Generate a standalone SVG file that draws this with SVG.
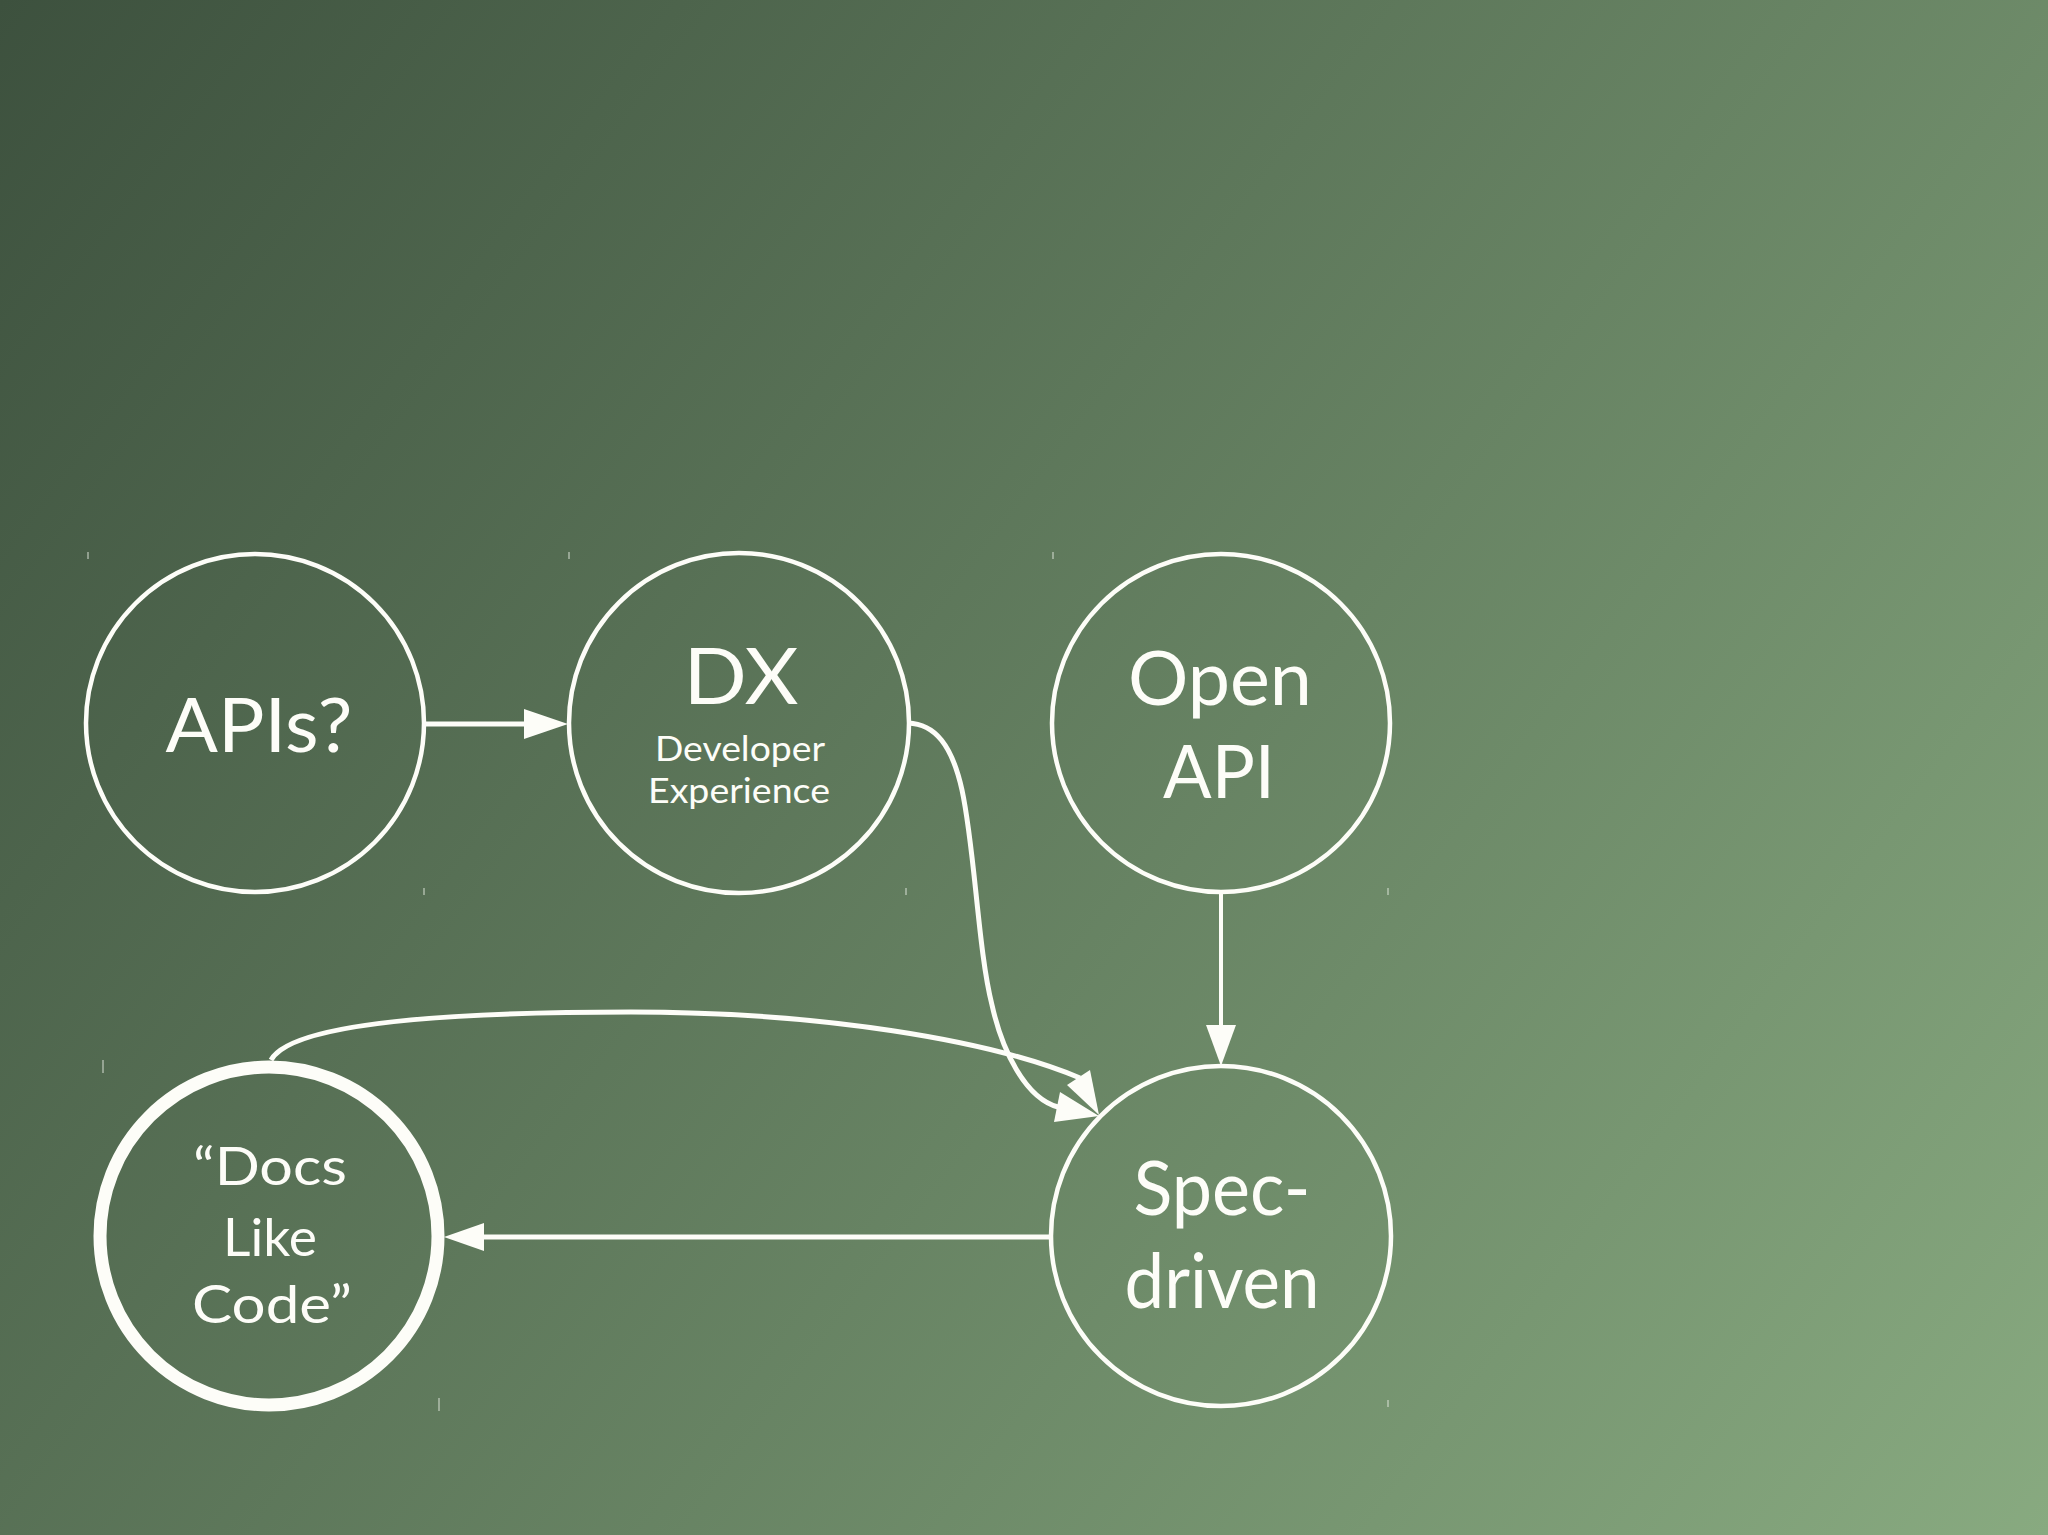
<svg xmlns="http://www.w3.org/2000/svg" width="2048" height="1535" viewBox="0 0 2048 1535">
<defs>
<linearGradient id="bg" gradientUnits="userSpaceOnUse" x1="0" y1="0" x2="2048" y2="1535">
<stop offset="0" stop-color="#3d513e"/>
<stop offset="1" stop-color="#88aa80"/>
</linearGradient>
<style>
.node{fill:none;stroke:#fdfdf8;stroke-width:4.5}
.thick{stroke-width:13}
.edge{fill:none;stroke:#fdfdf8;stroke-width:5}
.head{fill:#fdfdf8;stroke:none}
.tick{stroke:#e8eee4;stroke-width:1.5;opacity:0.6}
text{fill:#fdfdf8;font-family:Lato,"Open Sans","Liberation Sans",sans-serif;text-anchor:middle}
</style>
</defs>
<rect x="0" y="0" width="2048" height="1535" fill="url(#bg)"/>
<g id="ticks">
<line class="tick" x1="88" y1="552" x2="88" y2="559"/>
<line class="tick" x1="569" y1="552" x2="569" y2="559"/>
<line class="tick" x1="1053" y1="552" x2="1053" y2="559"/>
<line class="tick" x1="424" y1="888" x2="424" y2="895"/>
<line class="tick" x1="906" y1="888" x2="906" y2="895"/>
<line class="tick" x1="1388" y1="888" x2="1388" y2="895"/>
<line class="tick" x1="103" y1="1060" x2="103" y2="1073"/>
<line class="tick" x1="439" y1="1398" x2="439" y2="1411"/>
<line class="tick" x1="1388" y1="1400" x2="1388" y2="1407"/>
</g>
<g id="connectors">
<line class="edge" x1="424" y1="724" x2="526" y2="724"/>
<polygon class="head" points="568,724 524,709 524,739"/>
<path class="edge" d="M908,723 C935,724 952,745 962,790 C975,850 978,950 992,1005 C1002,1050 1025,1098 1058,1107"/>
<polygon class="head" points="1099,1116 1060,1092 1054,1122"/>
<path class="edge" d="M271,1060 C290,1025 430,1012 631,1012 C820,1012 990,1040 1080,1078"/>
<polygon class="head" points="1099,1115 1067,1085 1090,1070"/>
<line class="edge" x1="1221" y1="892" x2="1221" y2="1027" style="stroke-width:4"/>
<polygon class="head" points="1221,1066 1206,1025 1236,1025"/>
<line class="edge" x1="1051" y1="1237" x2="482" y2="1237"/>
<polygon class="head" points="444,1237 484,1223 484,1251"/>
</g>
<g id="node-apis">
<circle class="node" cx="255" cy="723" r="169"/>
<text x="259" y="752" font-size="76" textLength="187" lengthAdjust="spacingAndGlyphs">APIs?</text>
</g>
<g id="node-dx">
<circle class="node" cx="739" cy="723" r="170"/>
<text x="741" y="704" font-size="78" textLength="115" lengthAdjust="spacingAndGlyphs">DX</text>
<text x="740" y="761" font-size="34" textLength="170" lengthAdjust="spacingAndGlyphs">Developer</text>
<text x="739" y="803" font-size="34" textLength="182" lengthAdjust="spacingAndGlyphs">Experience</text>
</g>
<g id="node-openapi">
<circle class="node" cx="1221" cy="723" r="169"/>
<text x="1220" y="705" font-size="76" textLength="184" lengthAdjust="spacingAndGlyphs">Open</text>
<text x="1219" y="798" font-size="74" textLength="112" lengthAdjust="spacingAndGlyphs">API</text>
</g>
<g id="node-docs">
<circle class="node thick" cx="269" cy="1236" r="169"/>
<text x="270" y="1185" font-size="52" textLength="154" lengthAdjust="spacingAndGlyphs">“Docs</text>
<text x="270" y="1256" font-size="52" textLength="94" lengthAdjust="spacingAndGlyphs">Like</text>
<text x="272" y="1323" font-size="52" textLength="160" lengthAdjust="spacingAndGlyphs">Code”</text>
</g>
<g id="node-spec">
<circle class="node" cx="1221" cy="1236" r="170"/>
<text x="1222" y="1215" font-size="76" textLength="177" lengthAdjust="spacingAndGlyphs">Spec-</text>
<text x="1222" y="1308" font-size="76" textLength="195" lengthAdjust="spacingAndGlyphs">driven</text>
</g>
</svg>
